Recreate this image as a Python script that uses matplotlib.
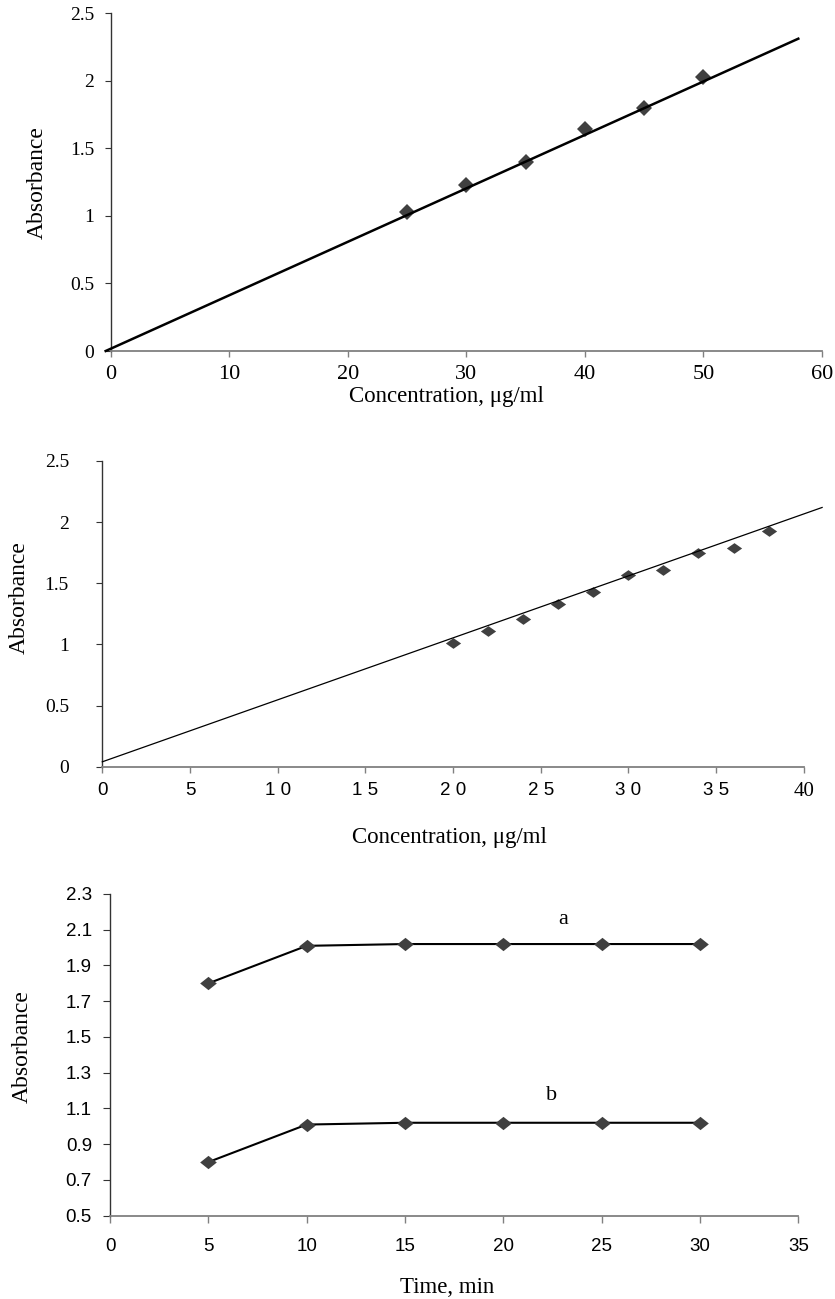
import matplotlib
matplotlib.use("Agg")
import matplotlib.pyplot as plt

# ====== data ======
# panel 1: calibration, concentration vs absorbance
conc1 = [25, 30, 35, 40, 45, 50]
abs1 = [1.03, 1.23, 1.40, 1.64, 1.80, 2.03]
fit1_x = [-0.45, 58]
fit1_y = [0.0, 2.31]

# panel 2: second calibration
conc2 = [20, 22, 24, 26, 28, 30, 32, 34, 36, 38]
abs2 = [1.01, 1.11, 1.21, 1.33, 1.43, 1.57, 1.61, 1.75, 1.79, 1.93]
fit2_x = [0, 41.05]
fit2_y = [0.04, 2.12]
ticks2_x = [0, 5, 10, 15, 20, 25, 30, 35, 40]
ticklabels2_x = ["0", "5", "1 0", "1 5", "2 0", "2 5", "3 0", "3 5", "40"]

# panel 3: absorbance vs time
time3 = [5, 10, 15, 20, 25, 30]
abs3_a = [1.80, 2.01, 2.02, 2.02, 2.02, 2.02]
abs3_b = [0.80, 1.01, 1.02, 1.02, 1.02, 1.02]
ticks3_y = [0.5, 0.7, 0.9, 1.1, 1.3, 1.5, 1.7, 1.9, 2.1, 2.3]
ticklabels3_y = ["0.5", "0.7", "0.9", "1.1", "1.3", "1.5", "1.7", "1.9", "2.1", "2.3"]

# ====== style ======
W, H, DPI = 835, 1299, 100
SERIF = "Liberation Serif"
SANS = "Liberation Sans"
MK_COLOR = "#404040"
SPINE_L = "#333333"
SPINE_B = "#808080"

plt.rcParams.update({"font.family": SERIF})

fig = plt.figure(figsize=(W / DPI, H / DPI), dpi=DPI)


def add_ax_px(left, top, right, bottom):
    """axes from pixel box (origin top-left)"""
    return fig.add_axes([left / W, 1 - bottom / H, (right - left) / W, (bottom - top) / H])


def fig_xy(x, y):
    return x / W, 1 - y / H


def style_axes(ax):
    for s in ("top", "right"):
        ax.spines[s].set_visible(False)
    ax.spines["left"].set_color(SPINE_L)
    ax.spines["bottom"].set_color(SPINE_B)
    ax.spines["left"].set_linewidth(1.0)
    ax.spines["bottom"].set_linewidth(1.3)
    ax.tick_params(axis="y", direction="out", length=4, width=0.8, color=SPINE_L)
    ax.tick_params(axis="x", direction="out", length=4, width=1.0, color=SPINE_B)


flat_diamond = [(-1, 0), (0, 0.7), (1, 0), (0, -0.7), (-1, 0)]
mid_diamond = [(-1, 0), (0, 0.8), (1, 0), (0, -0.8), (-1, 0)]

# ---------- panel 1 ----------
ax1 = add_ax_px(111, 13, 822, 351)
style_axes(ax1)
ax1.set_xlim(0, 60)
ax1.set_ylim(0, 2.5)
ax1.set_xticks([0, 10, 20, 30, 40, 50, 60])
ax1.set_yticks([0, 0.5, 1, 1.5, 2, 2.5])
ax1.set_yticklabels(["0", "0.5", "1", "1.5", "2", "2.5"])
ax1.tick_params(axis="y", labelsize=14, pad=8)
ax1.tick_params(axis="x", labelsize=16, pad=6)
ax1.plot(fit1_x, fit1_y, color="black", lw=1.8, clip_on=False, zorder=3)
ax1.plot(conc1, abs1, linestyle="none", marker="D", ms=8.5, color=MK_COLOR,
         markeredgewidth=0, clip_on=False, zorder=2)
ax1.set_xlabel("Concentration, μg/ml", fontsize=16.5, va="top")
ax1.xaxis.set_label_coords(*fig_xy(446, 386), transform=fig.transFigure)
ax1.set_ylabel("Absorbance", fontsize=17, va="center")
ax1.yaxis.set_label_coords(*fig_xy(37.5, 182.5), transform=fig.transFigure)

# ---------- panel 2 ----------
ax2 = add_ax_px(102.3, 461, 803.7, 766.7)
style_axes(ax2)
ax2.set_xlim(0, 40)
ax2.set_ylim(0, 2.5)
ax2.set_yticks([0, 0.5, 1, 1.5, 2, 2.5])
ax2.set_yticklabels(["0", "0.5", "1", "1.5", "2", "2.5"])
ax2.tick_params(axis="y", labelsize=14, pad=20)
ax2.set_xticks(ticks2_x)
ax2.set_xticklabels(ticklabels2_x)
ax2.tick_params(axis="x", pad=7)
for lab in ax2.get_xticklabels():
    if lab.get_text() == "40":
        lab.set_fontfamily(SERIF)
        lab.set_fontsize(15)
    else:
        lab.set_fontfamily(SANS)
        lab.set_fontsize(13.5)
ax2.plot(fit2_x, fit2_y, color="black", lw=0.9, clip_on=False, zorder=3)
ax2.plot(conc2, abs2, linestyle="none", marker=flat_diamond, ms=11, color=MK_COLOR,
         markeredgewidth=0, clip_on=False, zorder=2)
ax2.set_xlabel("Concentration, μg/ml", fontsize=16.5, va="top")
ax2.xaxis.set_label_coords(*fig_xy(449, 827), transform=fig.transFigure)
ax2.set_ylabel("Absorbance", fontsize=17, va="center")
ax2.yaxis.set_label_coords(*fig_xy(19, 598), transform=fig.transFigure)

# ---------- panel 3 ----------
ax3 = add_ax_px(110, 894, 798.3, 1215.7)
style_axes(ax3)
ax3.set_xlim(0, 35)
ax3.set_ylim(0.5, 2.3)
ax3.set_xticks([0, 5, 10, 15, 20, 25, 30, 35])
ax3.set_yticks(ticks3_y)
ax3.set_yticklabels(ticklabels3_y)
ax3.tick_params(axis="y", labelsize=13.5, pad=8, length=5)
ax3.tick_params(axis="x", labelsize=13.5, pad=11, length=5)
for lab in ax3.get_xticklabels() + ax3.get_yticklabels():
    lab.set_fontfamily(SANS)
for yv in (abs3_a, abs3_b):
    ax3.plot(time3, yv, color="black", lw=1.5, zorder=2)
    ax3.plot(time3, yv, linestyle="none", marker=mid_diamond, ms=12, color=MK_COLOR,
             markeredgewidth=0, zorder=3)
ax3.text(23.05, 2.155, "a", fontsize=16, ha="center", va="center")
ax3.text(22.45, 1.175, "b", fontsize=16, ha="center", va="center")
ax3.set_xlabel("Time, min", fontsize=16.5, va="top")
ax3.xaxis.set_label_coords(*fig_xy(447.5, 1277), transform=fig.transFigure)
ax3.set_ylabel("Absorbance", fontsize=17, va="center")
ax3.yaxis.set_label_coords(*fig_xy(22, 1046.5), transform=fig.transFigure)

fig.savefig("out.png", dpi=DPI, facecolor="white")
